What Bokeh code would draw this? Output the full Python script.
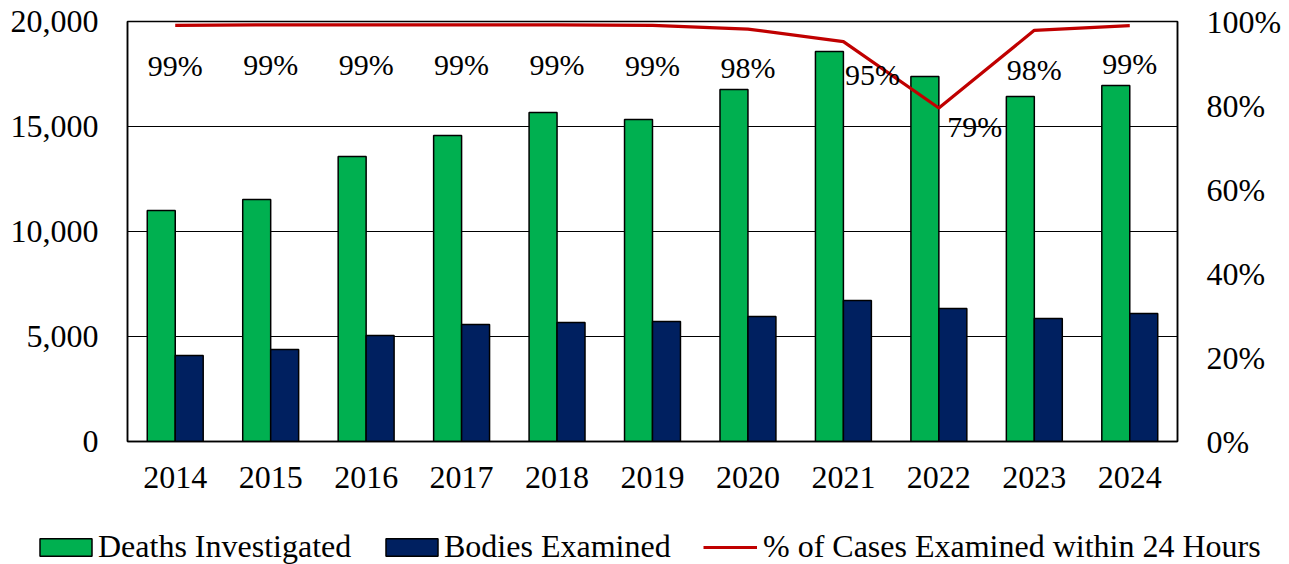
from bokeh.plotting import figure
from bokeh.layouts import column
from bokeh.models import (ColumnDataSource, FactorRange, Range1d, LinearAxis,
                          FixedTicker, NumeralTickFormatter, PrintfTickFormatter,
                          Legend, LegendItem)
from bokeh.transform import dodge
from bokeh.core.properties import value
from bokeh.embed import file_html
from bokeh.resources import INLINE

# ---- data ----
years = ["2014", "2015", "2016", "2017", "2018", "2019",
         "2020", "2021", "2022", "2023", "2024"]
deaths_investigated = [11000, 11520, 13570, 14570, 15670, 15330,
                       16760, 18570, 17380, 16430, 16950]
bodies_examined = [4100, 4380, 5050, 5570, 5670, 5710,
                   5950, 6710, 6330, 5860, 6100]
pct_within_24h = [99.1, 99.2, 99.2, 99.2, 99.2, 99.1,
                  98.2, 95.2, 79.4, 97.9, 99.0]
pct_labels = ["99%", "99%", "99%", "99%", "99%", "99%",
              "98%", "95%", "79%", "98%", "99%"]
series_names = ["Deaths Investigated", "Bodies Examined",
                "% of Cases Examined within 24 Hours"]

# label placement tweaks (screen px, positive = down)
label_dx = [0, 0, 0, 0, 0, 0, 0, 29, 36, 0, 0]
label_dy = [40, 40, 40, 40, 40, 40, 38, 33, 18, 39, 38]

GREEN = "#00B050"
NAVY = "#002060"
RED = "#C00000"
FONT = value("Liberation Serif")
NAN = float("nan")

src = ColumnDataSource(dict(years=years, deaths=deaths_investigated,
                            bodies=bodies_examined, pct=pct_within_24h,
                            lab=pct_labels, dx=label_dx, dy=label_dy))

W = 1289
H_MAIN = 505
H_LEG = 564 - H_MAIN

p = figure(width=W, height=H_MAIN, output_backend="svg", toolbar_location=None,
           x_range=FactorRange(factors=years, range_padding=0),
           y_range=Range1d(0, 20000),
           min_border_left=127, min_border_right=112,
           min_border_top=21, min_border_bottom=64)
p.frame_align = False
p.extra_y_ranges = {"pct": Range1d(0, 100)}

p.background_fill_color = "white"
p.border_fill_color = "white"
p.outline_line_color = "black"
p.outline_line_width = 1.5
p.xgrid.grid_line_color = None
p.ygrid.grid_line_color = "black"
p.ygrid.grid_line_width = 1.2
p.ygrid.ticker = FixedTicker(ticks=[0, 5000, 10000, 15000, 20000])

bw = 0.293
p.vbar(x=dodge("years", -bw / 2, range=p.x_range), top="deaths", width=bw,
       source=src, fill_color=GREEN, line_color="black", line_width=1.5)
p.vbar(x=dodge("years", bw / 2, range=p.x_range), top="bodies", width=bw,
       source=src, fill_color=NAVY, line_color="black", line_width=1.5)
p.line(x="years", y="pct", source=src, y_range_name="pct",
       line_color=RED, line_width=3.2)
p.text(x="years", y="pct", text="lab", source=src, y_range_name="pct",
       x_offset="dx", y_offset="dy",
       text_font=FONT, text_font_size="30px", text_color="black",
       text_align="center", text_baseline="middle")

ya = p.yaxis[0]
ya.ticker = FixedTicker(ticks=[0, 5000, 10000, 15000, 20000])
ya.formatter = NumeralTickFormatter(format="0,0")
ra = LinearAxis(y_range_name="pct", ticker=FixedTicker(ticks=[0, 20, 40, 60, 80, 100]),
                formatter=PrintfTickFormatter(format="%d%%"))
p.add_layout(ra, "right")

for ax in [p.xaxis[0], ya, ra]:
    ax.major_label_text_font = "Liberation Serif"
    ax.major_label_text_font_size = "32px"
    ax.major_label_text_color = "black"
    ax.major_tick_line_color = None
    ax.minor_tick_line_color = None
    ax.axis_line_color = "black"
    ax.axis_line_width = 1.5

ya.major_label_standoff = 23
ra.major_label_standoff = 23
p.xaxis[0].major_label_standoff = 19

# ---- legend strip ----
lf = figure(width=W, height=H_LEG, output_backend="svg", toolbar_location=None,
            x_range=Range1d(0, 1), y_range=Range1d(0, 1),
            x_axis_type=None, y_axis_type=None,
            min_border_left=0, min_border_right=0, min_border_top=0, min_border_bottom=0)
lf.frame_align = False
lf.outline_line_color = None
lf.xgrid.grid_line_color = None
lf.ygrid.grid_line_color = None

# legend-only renderers (NaN values: nothing is drawn in the strip itself)
g1 = lf.vbar(x=[0.5], top=[NAN], width=0.1, fill_color=GREEN, line_color="black", line_width=1.5)
g2 = lf.vbar(x=[0.5], top=[NAN], width=0.1, fill_color=NAVY, line_color="black", line_width=1.5)
g3 = lf.line(x=[NAN, NAN], y=[NAN, NAN], line_color=RED, line_width=3.2)

leg_center_from_bottom = 564 - 547
LH = 36


def make_legend(label, rend, x0, gw, gh, standoff):
    lg = Legend(items=[LegendItem(label=label, renderers=[rend])],
                location=(x0, leg_center_from_bottom - LH // 2),
                glyph_width=gw, glyph_height=gh, label_standoff=standoff,
                label_height=LH,
                padding=0, margin=0, border_line_color=None,
                background_fill_alpha=0,
                label_text_font="Liberation Serif", label_text_font_size="32px",
                label_text_color="black")
    lf.add_layout(lg, "center")


make_legend(series_names[0], g1, 33, 65, 22, 0)
make_legend(series_names[1], g2, 379, 65, 22, 0)
make_legend(series_names[2], g3, 703, 54, 22, 6)

layout = column(p, lf, spacing=0)
open("out.html", "w").write(file_html(layout, INLINE))
